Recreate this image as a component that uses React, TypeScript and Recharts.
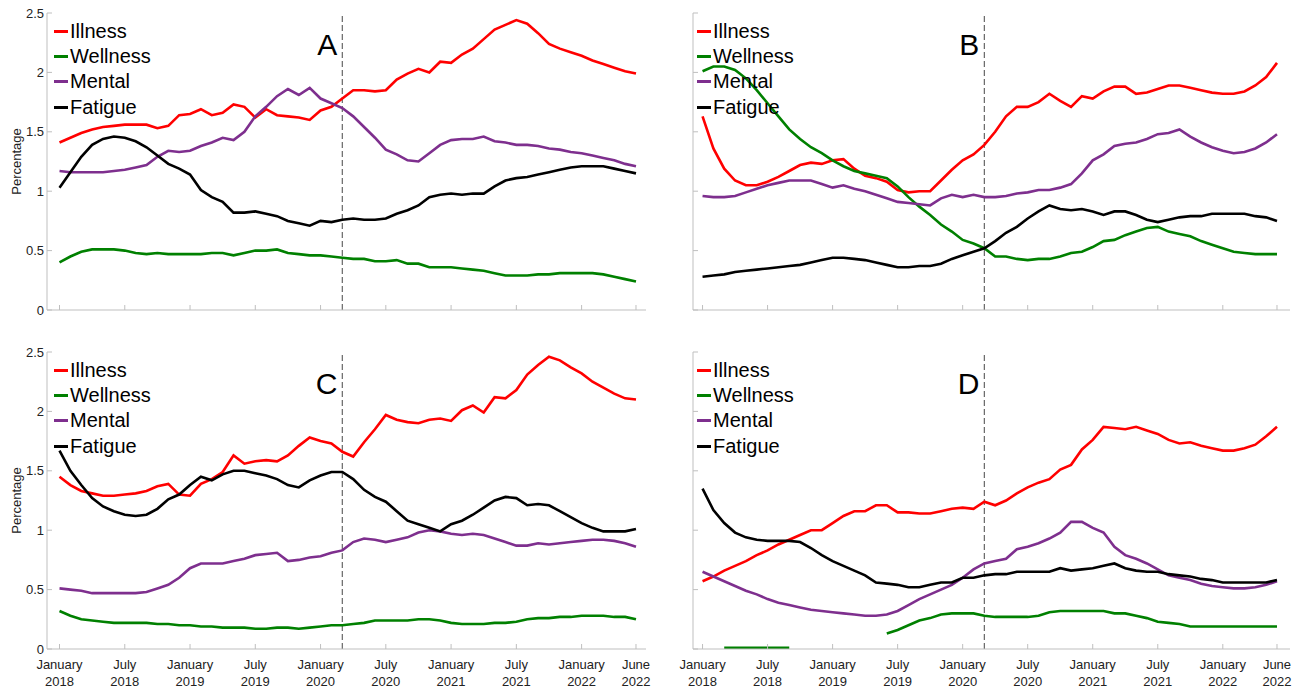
import { Legend, Line, LineChart, ReferenceLine, XAxis, YAxis } from "recharts"

// months since January 2018, one row per month up to June 2022
const tickMonths = [0, 6, 12, 18, 24, 30, 36, 42, 48, 53]
const tickLabels = [
  ["January", "2018"],
  ["July", "2018"],
  ["January", "2019"],
  ["July", "2019"],
  ["January", "2020"],
  ["July", "2020"],
  ["January", "2021"],
  ["July", "2021"],
  ["January", "2022"],
  ["June", "2022"],
]
const yTicks = [0, 0.5, 1, 1.5, 2, 2.5]
const lockdownMonth = 26 // March 2020

const seriesNames = ["Illness", "Wellness", "Mental", "Fatigue"]
const seriesColors = ["#ff0000", "#008000", "#7e2f8e", "#000000"]

// panel A
const aIllness = [1.41, 1.45, 1.49, 1.52, 1.54, 1.55, 1.56, 1.56, 1.56, 1.53, 1.55, 1.64, 1.65, 1.69, 1.64, 1.66, 1.73, 1.71, 1.62, 1.69, 1.64, 1.63, 1.62, 1.6, 1.68, 1.71, 1.78, 1.85, 1.85, 1.84, 1.85, 1.94, 1.99, 2.03, 2.0, 2.09, 2.08, 2.15, 2.2, 2.28, 2.36, 2.4, 2.44, 2.41, 2.33, 2.24, 2.2, 2.17, 2.14, 2.1, 2.07, 2.04, 2.01, 1.99]
const aWellness = [0.4, 0.45, 0.49, 0.51, 0.51, 0.51, 0.5, 0.48, 0.47, 0.48, 0.47, 0.47, 0.47, 0.47, 0.48, 0.48, 0.46, 0.48, 0.5, 0.5, 0.51, 0.48, 0.47, 0.46, 0.46, 0.45, 0.44, 0.43, 0.43, 0.41, 0.41, 0.42, 0.39, 0.39, 0.36, 0.36, 0.36, 0.35, 0.34, 0.33, 0.31, 0.29, 0.29, 0.29, 0.3, 0.3, 0.31, 0.31, 0.31, 0.31, 0.3, 0.28, 0.26, 0.24]
const aMental = [1.17, 1.16, 1.16, 1.16, 1.16, 1.17, 1.18, 1.2, 1.22, 1.29, 1.34, 1.33, 1.34, 1.38, 1.41, 1.45, 1.43, 1.5, 1.63, 1.71, 1.8, 1.86, 1.81, 1.87, 1.78, 1.74, 1.7, 1.63, 1.54, 1.45, 1.35, 1.31, 1.26, 1.25, 1.32, 1.39, 1.43, 1.44, 1.44, 1.46, 1.42, 1.41, 1.39, 1.39, 1.38, 1.36, 1.35, 1.33, 1.32, 1.3, 1.28, 1.26, 1.23, 1.21]
const aFatigue = [1.03, 1.16, 1.29, 1.39, 1.44, 1.46, 1.45, 1.42, 1.37, 1.3, 1.23, 1.19, 1.14, 1.01, 0.95, 0.91, 0.82, 0.82, 0.83, 0.81, 0.79, 0.75, 0.73, 0.71, 0.75, 0.74, 0.76, 0.77, 0.76, 0.76, 0.77, 0.81, 0.84, 0.88, 0.95, 0.97, 0.98, 0.97, 0.98, 0.98, 1.04, 1.09, 1.11, 1.12, 1.14, 1.16, 1.18, 1.2, 1.21, 1.21, 1.21, 1.19, 1.17, 1.15]

// panel B
const bIllness = [1.63, 1.36, 1.19, 1.09, 1.05, 1.05, 1.08, 1.12, 1.17, 1.22, 1.24, 1.23, 1.26, 1.27, 1.19, 1.13, 1.11, 1.08, 1.01, 0.99, 1.0, 1.0, 1.09, 1.18, 1.26, 1.31, 1.39, 1.5, 1.63, 1.71, 1.71, 1.75, 1.82, 1.76, 1.71, 1.8, 1.78, 1.84, 1.88, 1.88, 1.82, 1.83, 1.86, 1.89, 1.89, 1.87, 1.85, 1.83, 1.82, 1.82, 1.84, 1.89, 1.96, 2.08]
const bWellness = [2.01, 2.05, 2.05, 2.02, 1.95, 1.85, 1.74, 1.63, 1.52, 1.44, 1.37, 1.32, 1.26, 1.21, 1.17, 1.15, 1.13, 1.11, 1.04, 0.95, 0.87, 0.8, 0.72, 0.66, 0.59, 0.56, 0.52, 0.45, 0.45, 0.43, 0.42, 0.43, 0.43, 0.45, 0.48, 0.49, 0.53, 0.58, 0.59, 0.63, 0.66, 0.69, 0.7, 0.66, 0.64, 0.62, 0.58, 0.55, 0.52, 0.49, 0.48, 0.47, 0.47, 0.47]
const bMental = [0.96, 0.95, 0.95, 0.96, 0.99, 1.02, 1.05, 1.07, 1.09, 1.09, 1.09, 1.06, 1.03, 1.05, 1.02, 1.0, 0.97, 0.94, 0.91, 0.9, 0.89, 0.88, 0.94, 0.97, 0.95, 0.97, 0.95, 0.95, 0.96, 0.98, 0.99, 1.01, 1.01, 1.03, 1.06, 1.15, 1.26, 1.31, 1.38, 1.4, 1.41, 1.44, 1.48, 1.49, 1.52, 1.46, 1.41, 1.37, 1.34, 1.32, 1.33, 1.36, 1.41, 1.48]
const bFatigue = [0.28, 0.29, 0.3, 0.32, 0.33, 0.34, 0.35, 0.36, 0.37, 0.38, 0.4, 0.42, 0.44, 0.44, 0.43, 0.42, 0.4, 0.38, 0.36, 0.36, 0.37, 0.37, 0.39, 0.43, 0.46, 0.49, 0.52, 0.58, 0.65, 0.7, 0.77, 0.83, 0.88, 0.85, 0.84, 0.85, 0.83, 0.8, 0.83, 0.83, 0.8, 0.76, 0.74, 0.76, 0.78, 0.79, 0.79, 0.81, 0.81, 0.81, 0.81, 0.79, 0.78, 0.75]

// panel C
const cIllness = [1.45, 1.38, 1.33, 1.31, 1.29, 1.29, 1.3, 1.31, 1.33, 1.37, 1.39, 1.3, 1.29, 1.39, 1.43, 1.49, 1.63, 1.56, 1.58, 1.59, 1.58, 1.63, 1.71, 1.78, 1.75, 1.73, 1.66, 1.62, 1.74, 1.85, 1.97, 1.93, 1.91, 1.9, 1.93, 1.94, 1.92, 2.01, 2.05, 1.99, 2.12, 2.11, 2.18, 2.31, 2.39, 2.46, 2.43, 2.37, 2.32, 2.25, 2.2, 2.15, 2.11, 2.1]
const cWellness = [0.32, 0.28, 0.25, 0.24, 0.23, 0.22, 0.22, 0.22, 0.22, 0.21, 0.21, 0.2, 0.2, 0.19, 0.19, 0.18, 0.18, 0.18, 0.17, 0.17, 0.18, 0.18, 0.17, 0.18, 0.19, 0.2, 0.2, 0.21, 0.22, 0.24, 0.24, 0.24, 0.24, 0.25, 0.25, 0.24, 0.22, 0.21, 0.21, 0.21, 0.22, 0.22, 0.23, 0.25, 0.26, 0.26, 0.27, 0.27, 0.28, 0.28, 0.28, 0.27, 0.27, 0.25]
const cMental = [0.51, 0.5, 0.49, 0.47, 0.47, 0.47, 0.47, 0.47, 0.48, 0.51, 0.54, 0.6, 0.68, 0.72, 0.72, 0.72, 0.74, 0.76, 0.79, 0.8, 0.81, 0.74, 0.75, 0.77, 0.78, 0.81, 0.83, 0.9, 0.93, 0.92, 0.9, 0.92, 0.94, 0.98, 1.0, 0.99, 0.97, 0.96, 0.97, 0.96, 0.93, 0.9, 0.87, 0.87, 0.89, 0.88, 0.89, 0.9, 0.91, 0.92, 0.92, 0.91, 0.89, 0.86]
const cFatigue = [1.67, 1.5, 1.38, 1.27, 1.2, 1.16, 1.13, 1.12, 1.13, 1.18, 1.26, 1.3, 1.38, 1.45, 1.42, 1.47, 1.5, 1.5, 1.48, 1.46, 1.43, 1.38, 1.36, 1.42, 1.46, 1.49, 1.49, 1.43, 1.34, 1.28, 1.24, 1.16, 1.08, 1.05, 1.02, 0.99, 1.05, 1.08, 1.13, 1.19, 1.25, 1.28, 1.27, 1.21, 1.22, 1.21, 1.16, 1.11, 1.06, 1.02, 0.99, 0.99, 0.99, 1.01]

// panel D (wellness has gaps)
const dIllness = [0.57, 0.61, 0.66, 0.7, 0.74, 0.79, 0.83, 0.88, 0.92, 0.96, 1.0, 1.0, 1.06, 1.12, 1.16, 1.16, 1.21, 1.21, 1.15, 1.15, 1.14, 1.14, 1.16, 1.18, 1.19, 1.18, 1.24, 1.21, 1.25, 1.31, 1.36, 1.4, 1.43, 1.51, 1.55, 1.68, 1.76, 1.87, 1.86, 1.85, 1.87, 1.84, 1.81, 1.76, 1.73, 1.74, 1.71, 1.69, 1.67, 1.67, 1.69, 1.72, 1.79, 1.87]
const dWellness = [null, null, 0.01, 0.01, 0.01, 0.01, 0.01, 0.01, 0.01, null, null, null, null, null, null, null, null, 0.13, 0.16, 0.2, 0.24, 0.26, 0.29, 0.3, 0.3, 0.3, 0.28, 0.27, 0.27, 0.27, 0.27, 0.28, 0.31, 0.32, 0.32, 0.32, 0.32, 0.32, 0.3, 0.3, 0.28, 0.26, 0.23, 0.22, 0.21, 0.19, 0.19, 0.19, 0.19, 0.19, 0.19, 0.19, 0.19, 0.19]
const dMental = [0.65, 0.61, 0.57, 0.53, 0.49, 0.46, 0.42, 0.39, 0.37, 0.35, 0.33, 0.32, 0.31, 0.3, 0.29, 0.28, 0.28, 0.29, 0.32, 0.37, 0.42, 0.46, 0.5, 0.54, 0.6, 0.67, 0.72, 0.74, 0.76, 0.84, 0.86, 0.89, 0.93, 0.98, 1.07, 1.07, 1.02, 0.98, 0.86, 0.79, 0.76, 0.72, 0.67, 0.62, 0.6, 0.58, 0.55, 0.53, 0.52, 0.51, 0.51, 0.52, 0.54, 0.57]
const dFatigue = [1.35, 1.17, 1.06, 0.98, 0.94, 0.92, 0.91, 0.91, 0.91, 0.9, 0.85, 0.79, 0.74, 0.7, 0.66, 0.62, 0.56, 0.55, 0.54, 0.52, 0.52, 0.54, 0.56, 0.56, 0.6, 0.6, 0.62, 0.63, 0.63, 0.65, 0.65, 0.65, 0.65, 0.68, 0.66, 0.67, 0.68, 0.7, 0.72, 0.68, 0.66, 0.65, 0.65, 0.63, 0.62, 0.61, 0.59, 0.58, 0.56, 0.56, 0.56, 0.56, 0.56, 0.58]

type Row = { month: number; [k: string]: number | null }

function toRows(...series: (number | null)[][]): Row[] {
  return series[0].map((_, i) => {
    const row: Row = { month: i }
    seriesNames.forEach((name, s) => {
      row[name] = series[s][i]
    })
    return row
  })
}

const BOX = "#bfbfbf"
const FONT = "'Liberation Sans', Arial, sans-serif"

function BottomTick(props: any) {
  const { x, y, payload, showLabel } = props
  const idx = tickMonths.indexOf(payload.value)
  const [l1, l2] = tickLabels[idx] ?? ["", ""]
  return (
    <g>
      <line x1={x} y1={y} x2={x} y2={y - 5} stroke={BOX} />
      {showLabel && (
        <text x={x} y={y + 20} textAnchor="middle" fontSize={13} fill="#222">
          <tspan x={x}>{l1}</tspan>
          <tspan x={x} dy={17}>
            {l2}
          </tspan>
        </text>
      )}
    </g>
  )
}

function TopTick(props: any) {
  const { x, y } = props
  return <line x1={x} y1={y} x2={x} y2={y + 5} stroke={BOX} />
}

function LeftTick(props: any) {
  const { x, y, payload, showLabel } = props
  return (
    <g>
      <line x1={x} y1={y} x2={x + 5} y2={y} stroke={BOX} />
      {showLabel && (
        <text x={x - 3} y={y} dy="0.35em" textAnchor="end" fontSize={13} fill="#222">
          {payload.value}
        </text>
      )}
    </g>
  )
}

function RightTick(props: any) {
  const { x, y } = props
  return <line x1={x} y1={y} x2={x - 5} y2={y} stroke={BOX} />
}

function PanelLegend() {
  return (
    <div style={{ fontFamily: FONT }}>
      {seriesNames.map((name, i) => (
        <div key={name} style={{ display: "flex", alignItems: "center", height: 25.3 }}>
          <span
            style={{
              display: "inline-block",
              width: 14,
              height: 3,
              background: seriesColors[i],
              marginRight: 2,
            }}
          />
          <span style={{ fontSize: 20, color: "#000", lineHeight: "25px" }}>{name}</span>
        </div>
      ))}
    </div>
  )
}

type PanelProps = {
  rows: Row[]
  letter: string
  left: number
  top: number
  width: number
  height: number
  marginTop: number
  marginRight: number
  yAxisWidth: number
  xAxisHeight: number
  xDomain: [number, number]
  showY: boolean
  showX: boolean
  legendLeft: number
  legendTop: number
}

function Panel(p: PanelProps) {
  return (
    <div style={{ position: "absolute", left: p.left, top: p.top }}>
      <LineChart
        width={p.width}
        height={p.height}
        data={p.rows}
        margin={{ top: p.marginTop, right: p.marginRight, bottom: 0, left: 0 }}
      >
        <XAxis
          xAxisId="b"
          dataKey="month"
          type="number"
          domain={p.xDomain}
          ticks={tickMonths}
          interval={0}
          height={p.xAxisHeight}
          axisLine={{ stroke: BOX }}
          tickLine={false}
          tickSize={0}
          tickMargin={0}
          tick={(t: any) => <BottomTick {...t} showLabel={p.showX} />}
        />
        <XAxis
          xAxisId="t"
          orientation="top"
          dataKey="month"
          type="number"
          domain={p.xDomain}
          ticks={tickMonths}
          interval={0}
          height={0}
          axisLine={{ stroke: BOX }}
          tickLine={false}
          tickSize={0}
          tickMargin={0}
          tick={(t: any) => <TopTick {...t} />}
        />
        <YAxis
          yAxisId="l"
          type="number"
          domain={[0, 2.5]}
          ticks={yTicks}
          interval={0}
          width={p.yAxisWidth}
          axisLine={{ stroke: BOX }}
          tickLine={false}
          tickSize={0}
          tickMargin={0}
          tick={(t: any) => <LeftTick {...t} showLabel={p.showY} />}
          label={
            p.showY
              ? (lp: any) => {
                  const vb = lp.viewBox
                  const cx = 16
                  const cy = vb.y + vb.height / 2
                  return (
                    <text
                      x={cx}
                      y={cy}
                      transform={`rotate(-90 ${cx} ${cy})`}
                      textAnchor="middle"
                      dy="0.35em"
                      fontSize={13}
                      fill="#222"
                    >
                      Percentage
                    </text>
                  )
                }
              : undefined
          }
        />
        <YAxis
          yAxisId="r"
          orientation="right"
          type="number"
          domain={[0, 2.5]}
          ticks={yTicks}
          interval={0}
          width={0}
          axisLine={{ stroke: BOX }}
          tickLine={false}
          tickSize={0}
          tickMargin={0}
          tick={(t: any) => <RightTick {...t} />}
        />
        <ReferenceLine
          xAxisId="b"
          yAxisId="l"
          x={lockdownMonth}
          stroke="#666"
          strokeWidth={1.2}
          strokeDasharray="6 3"
          label={(lp: any) => (
            <text
              x={lp.viewBox.x - 5}
              y={lp.viewBox.y + 42}
              textAnchor="end"
              fontSize={30}
              fill="#000"
            >
              {p.letter}
            </text>
          )}
        />
        {seriesNames.map((name, i) => (
          <Line
            key={name}
            xAxisId="b"
            yAxisId="l"
            type="linear"
            dataKey={name}
            stroke={seriesColors[i]}
            strokeWidth={2.6}
            dot={false}
            isAnimationActive={false}
          />
        ))}
        <Legend
          layout="vertical"
          align="center"
          verticalAlign="middle"
          wrapperStyle={{ left: p.legendLeft, top: p.legendTop, width: "auto" }}
          content={() => <PanelLegend />}
        />
      </LineChart>
    </div>
  )
}

const rowsA = toRows(aIllness, aWellness, aMental, aFatigue)
const rowsB = toRows(bIllness, bWellness, bMental, bFatigue)
const rowsC = toRows(cIllness, cWellness, cMental, cFatigue)
const rowsD = toRows(dIllness, dWellness, dMental, dFatigue)

export default function App() {
  return (
    <div
      style={{
        position: "absolute",
        left: 0,
        top: 0,
        width: 1298,
        height: 688,
        background: "#fff",
        overflow: "hidden",
        fontFamily: FONT,
      }}
    >
      <Panel rows={rowsA} letter="A" left={0} top={0} width={660} height={330} marginTop={13} marginRight={14}
        yAxisWidth={47} xAxisHeight={20} xDomain={[-1.15, 53.92]} showY showX={false} legendLeft={54} legendTop={18.5} />
      <Panel rows={rowsB} letter="B" left={660} top={0} width={638} height={330} marginTop={13} marginRight={8}
        yAxisWidth={33} xAxisHeight={20} xDomain={[-0.88, 54.2]} showY={false} showX={false} legendLeft={37} legendTop={18.5} />
      <Panel rows={rowsC} letter="C" left={0} top={340} width={660} height={348} marginTop={12} marginRight={14}
        yAxisWidth={47} xAxisHeight={39} xDomain={[-1.15, 53.92]} showY showX legendLeft={54} legendTop={17.5} />
      <Panel rows={rowsD} letter="D" left={660} top={340} width={638} height={348} marginTop={12} marginRight={8}
        yAxisWidth={33} xAxisHeight={39} xDomain={[-0.88, 54.2]} showY={false} showX legendLeft={37} legendTop={17.5} />
    </div>
  )
}
